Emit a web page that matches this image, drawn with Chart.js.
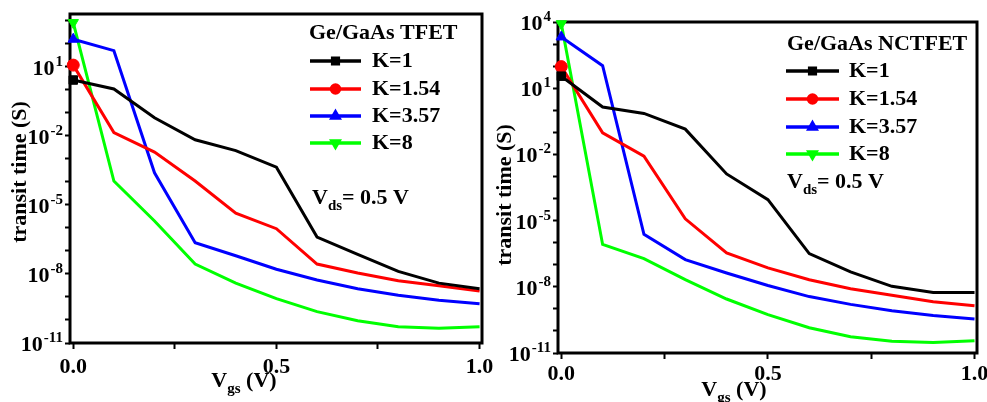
<!DOCTYPE html>
<html>
<head>
<meta charset="utf-8">
<script src="https://cdn.jsdelivr.net/npm/chart.js@4/dist/chart.umd.min.js"></script>
<style>
  html, body { margin: 0; padding: 0; background: #fff; }
  #wrap { position: relative; width: 987px; height: 402px; overflow: hidden; }
  canvas { position: absolute; top: 0; }
  #tfet { left: 0; }
  #nctfet { left: 495px; }
</style>
</head>
<body>
<div id="wrap">
  <canvas id="tfet" width="495" height="402"></canvas>
  <canvas id="nctfet" width="492" height="402"></canvas>
</div>
<script>
// gate voltage sweep (V)
const vgs = [0, 0.1, 0.2, 0.3, 0.4, 0.5, 0.6, 0.7, 0.8, 0.9, 1.0]
const kLabels = ['K=1', 'K=1.54', 'K=3.57', 'K=8']

// transit time (s), Ge/GaAs TFET
const tfetK1 = [2.7, 1.1, 6.2e-2, 6.8e-3, 2.3e-3, 4.4e-4, 4e-7, 7.2e-8, 1.3e-8, 4e-9, 2.3e-9]
const tfetK154 = [12, 1.4e-2, 2e-3, 1.1e-4, 4.4e-6, 9.3e-7, 2.7e-8, 1.1e-8, 5.1e-9, 3.1e-9, 1.8e-9]
const tfetK357 = [160, 51, 2.5e-4, 2.3e-7, 6.2e-8, 1.6e-8, 5.5e-9, 2.3e-9, 1.2e-9, 7.2e-10, 5.1e-10]
const tfetK8 = [850, 1.1e-4, 2e-6, 2.7e-8, 4e-9, 8.5e-10, 2.3e-10, 9.3e-11, 5.1e-11, 4.4e-11, 5.1e-11]

// transit time (s), Ge/GaAs NCTFET
const nctfetK1 = [35, 1.4, 0.72, 0.14, 1.3e-3, 8.9e-5, 3.2e-7, 4.7e-8, 1.05e-8, 5.5e-9, 5.5e-9]
const nctfetK154 = [95, 9.5e-2, 8.3e-3, 1.2e-5, 3.4e-7, 7.2e-8, 2.1e-8, 8.1e-9, 4.1e-9, 2.1e-9, 1.4e-9]
const nctfetK357 = [2100, 105, 2.4e-6, 1.7e-7, 4.2e-8, 1.15e-8, 3.6e-9, 1.6e-9, 8.3e-10, 5e-10, 3.5e-10]
const nctfetK8 = [8300, 8.3e-7, 1.9e-7, 2.1e-8, 2.8e-9, 5.5e-10, 1.4e-10, 5.5e-11, 3.4e-11, 3e-11, 3.6e-11]

const xTicks = [0, 0.25, 0.5, 0.75, 1.0]
const xTickLabels = [0, 0.5, 1.0]
const yLabelExps = [-11, -8, -5, -2, 1, 4]

const colors = ['#000000', '#ff0000', '#0000ff', '#00ff00']
const pointStyles = ['rect', 'circle', 'triangle', 'triangle']
const pointRotations = [0, 0, 0, 180]

const FONT = '"Liberation Serif", "Times New Roman", serif'
const big = 'bold 22px ' + FONT
const small = 'bold 15px ' + FONT

function drawPow(ctx, xr, yc, exp) {
  const e = String(exp)
  ctx.font = big
  const wb = ctx.measureText('10').width
  ctx.font = small
  const we = ctx.measureText(e).width
  const x0 = xr - wb - we - 1
  ctx.textAlign = 'left'
  ctx.textBaseline = 'alphabetic'
  ctx.font = big
  ctx.fillText('10', x0, yc + 8)
  ctx.font = small
  ctx.fillText(e, x0 + wb + 1, yc - 1)
}

// text with a subscript part: main, sub, rest
function drawSub(ctx, x, y, main, sub, rest, center) {
  ctx.textBaseline = 'middle'
  ctx.textAlign = 'left'
  ctx.font = big
  const w1 = ctx.measureText(main).width
  const w3 = ctx.measureText(rest).width
  ctx.font = small
  const w2 = ctx.measureText(sub).width
  const x0 = center ? x - (w1 + w2 + w3) / 2 : x
  ctx.font = big
  ctx.fillText(main, x0, y)
  ctx.font = small
  ctx.fillText(sub, x0 + w1, y + 8)
  ctx.font = big
  ctx.fillText(rest, x0 + w1 + w2, y)
}

function decor(cfg) {
  return {
    id: 'decor',
    beforeDatasetsDraw(chart) {
      const ctx = chart.ctx, a = chart.chartArea
      ctx.save()
      ctx.strokeStyle = '#000'
      ctx.lineWidth = 3
      ctx.strokeRect(a.left, a.top, a.right - a.left, a.bottom - a.top)
      ctx.restore()
    },
    afterDraw(chart) {
      const ctx = chart.ctx, a = chart.chartArea
      const xs = chart.scales.x, ys = chart.scales.y
      ctx.save()
      ctx.fillStyle = '#000'

      // y tick labels 10^n
      yLabelExps.forEach(n => {
        const v = Math.pow(10, n)
        if (v < ys.min * 0.999 || v > ys.max * 1.001) return
        drawPow(ctx, a.left - 7, ys.getPixelForValue(v), n)
      })

      // x tick labels
      ctx.font = big
      ctx.textAlign = 'center'
      ctx.textBaseline = 'middle'
      xTickLabels.forEach(v => {
        ctx.fillText(v.toFixed(1), xs.getPixelForValue(v), a.bottom + cfg.xLabelDy)
      })

      // axis titles
      ctx.save()
      ctx.translate(cfg.yTitle[0], cfg.yTitle[1])
      ctx.rotate(-Math.PI / 2)
      ctx.font = big
      ctx.textAlign = 'center'
      ctx.textBaseline = 'middle'
      ctx.fillText('transit time (S)', 0, 0)
      ctx.restore()
      drawSub(ctx, cfg.xTitle[0], cfg.xTitle[1], 'V', 'gs', ' (V)', true)

      // legend
      const lg = cfg.legend
      ctx.font = big
      ctx.textAlign = 'left'
      ctx.textBaseline = 'middle'
      ctx.fillText(cfg.title, lg.titleX, lg.titleY)
      chart.data.datasets.forEach((ds, i) => {
        const y = lg.rows[i]
        ctx.strokeStyle = ds.borderColor
        ctx.lineWidth = 3.5
        ctx.beginPath()
        ctx.moveTo(lg.x, y)
        ctx.lineTo(lg.x + lg.len, y)
        ctx.stroke()
        ctx.fillStyle = ds.borderColor
        Chart.helpers.drawPoint(ctx, {
          pointStyle: ds.pointStyle, rotation: ds.pointRotation,
          radius: 4, borderWidth: 1
        }, lg.x + lg.len / 2, y)
        ctx.fill()
        ctx.fillStyle = '#000'
        ctx.font = big
        ctx.fillText(kLabels[i], lg.textX, y)
      })

      drawSub(ctx, cfg.vds[0], cfg.vds[1], 'V', 'ds', '= 0.5 V', false)
      ctx.restore()
    }
  }
}

function makePanel(id, series, cfg) {
  const cv = document.getElementById(id)
  const W = cv.width, H = cv.height, box = cfg.box
  return new Chart(cv, {
    type: 'line',
    data: {
      datasets: series.map((arr, i) => ({
        label: kLabels[i],
        data: vgs.map((x, j) => ({ x, y: arr[j] })),
        borderColor: colors[i],
        backgroundColor: colors[i],
        borderWidth: 3,
        tension: 0,
        pointStyle: pointStyles[i],
        pointRotation: pointRotations[i],
        pointRadius: c => c.dataIndex === 0 ? 6 : 0,
        pointBorderWidth: 1,
        clip: false
      }))
    },
    options: {
      responsive: false,
      animation: false,
      devicePixelRatio: 1,
      layout: { padding: { left: 0, top: box.top, right: W - box.right, bottom: 0 } },
      plugins: { legend: { display: false }, tooltip: { enabled: false } },
      scales: {
        x: {
          type: 'linear', min: -0.008, max: 1.006,
          afterBuildTicks: s => { s.ticks = xTicks.map(v => ({ value: v })) },
          afterFit: s => { s.height = H - box.bottom },
          ticks: { display: false },
          grid: { drawOnChartArea: false, tickLength: 6, tickWidth: 2, tickColor: '#000' },
          border: { display: false }
        },
        y: {
          type: 'logarithmic', min: 1e-11, max: cfg.yMax,
          afterBuildTicks: s => {
            const t = []
            for (let n = -11; Math.pow(10, n) <= cfg.yMax * 1.001; n++) t.push({ value: Math.pow(10, n) })
            s.ticks = t
          },
          afterFit: s => { s.width = box.left },
          ticks: { display: false },
          grid: { drawOnChartArea: false, tickLength: 5, tickWidth: 2, tickColor: '#000' },
          border: { display: false }
        }
      }
    },
    plugins: [decor(cfg)]
  })
}

makePanel('tfet', [tfetK1, tfetK154, tfetK357, tfetK8], {
  box: { left: 70, top: 14, right: 482, bottom: 343 },
  yMax: 2000,
  title: 'Ge/GaAs TFET',
  xLabelDy: 24,
  yTitle: [20, 172],
  xTitle: [244, 381],
  legend: { titleX: 309, titleY: 33, x: 310, len: 51, textX: 372, rows: [61, 89, 116, 143] },
  vds: [312, 198]
})

makePanel('nctfet', [nctfetK1, nctfetK154, nctfetK357, nctfetK8], {
  box: { left: 63, top: 22, right: 482, bottom: 353 },
  yMax: 1e4,
  title: 'Ge/GaAs NCTFET',
  xLabelDy: 21,
  yTitle: [10, 195],
  xTitle: [239, 390],
  legend: { titleX: 292, titleY: 44, x: 291, len: 53, textX: 354, rows: [71, 99, 127, 154] },
  vds: [292, 182]
})
</script>
</body>
</html>
